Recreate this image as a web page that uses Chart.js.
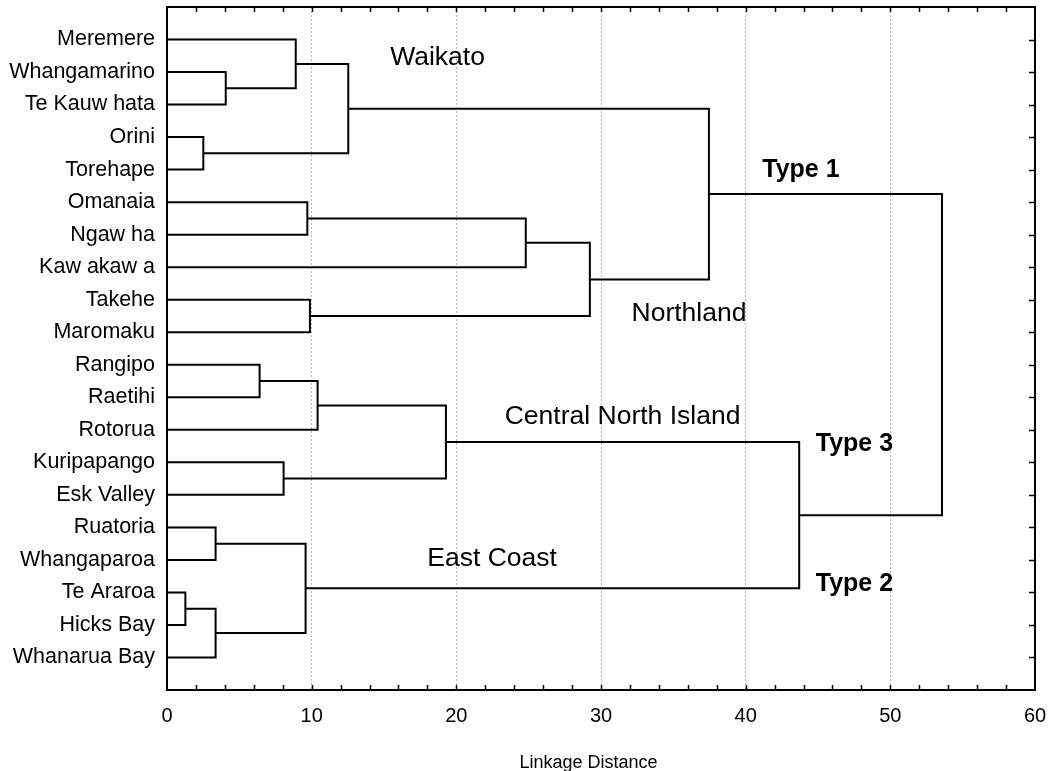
<!DOCTYPE html>
<html>
<head>
<meta charset="utf-8">
<script src="https://cdn.jsdelivr.net/npm/chart.js@4"></script>
<style>
  body { margin: 0; background: #fff; }
  #wrap { width: 1053px; height: 771px; }
</style>
</head>
<body>
<div id="wrap"><canvas id="myChart"></canvas></div>
<script>
// leaves, top to bottom
const leaves = ['Meremere', 'Whangamarino', 'Te Kauw hata', 'Orini', 'Torehape',
    'Omanaia', 'Ngaw ha', 'Kaw akaw a', 'Takehe', 'Maromaku',
    'Rangipo', 'Raetihi', 'Rotorua', 'Kuripapango', 'Esk Valley',
    'Ruatoria', 'Whangaparoa', 'Te Araroa', 'Hicks Bay', 'Whanarua Bay'];

// joins: child a, child b (0-19 = leaf, 20+ = earlier join), linkage distance
const joinA = [17, 3, 15, 20, 1, 10, 13, 0, 22, 5, 8, 25, 27, 31, 29, 34, 32, 33, 36];
const joinB = [18, 4, 16, 19, 2, 11, 14, 24, 23, 6, 9, 12, 21, 26, 7, 30, 35, 28, 37];
const joinDist = [1.27, 2.51, 3.36, 3.36, 4.06, 6.4, 8.06, 8.9, 9.58, 9.7, 9.88,
    10.41, 12.53, 19.28, 24.8, 29.23, 37.46, 43.7, 53.57];

const xTicks = [0, 10, 20, 30, 40, 50, 60];

const notes = [
    { text: 'Waikato', x: 18.7, y: 1.56, bold: false },
    { text: 'Northland', x: 36.08, y: 9.43, bold: false },
    { text: 'Central North Island', x: 31.49, y: 12.6, bold: false },
    { text: 'East Coast', x: 22.47, y: 16.95, bold: false },
    { text: 'Type 1', x: 43.82, y: 5.03, bold: true },
    { text: 'Type 3', x: 47.52, y: 13.43, bold: true },
    { text: 'Type 2', x: 47.52, y: 17.73, bold: true }
];

const FONT = "'Liberation Sans', Arial, sans-serif";

// node positions: leaf at distance 0, join at midpoint of its children
const nodes = leaves.map((_, i) => ({ x: 0, y: i + 1 }));
const datasets = [];
joinDist.forEach((h, k) => {
    const a = nodes[joinA[k]], b = nodes[joinB[k]];
    nodes.push({ x: h, y: (a.y + b.y) / 2 });
    datasets.push({
        data: [{ x: a.x, y: a.y }, { x: h, y: a.y }, { x: h, y: b.y }, { x: b.x, y: b.y }],
        showLine: true,
        borderColor: '#000',
        borderWidth: 2,
        pointRadius: 0,
        fill: false
    });
});

const frame = {
    id: 'frame',
    afterDatasetsDraw(chart) {
        const c = chart.ctx, a = chart.chartArea;
        const xs = chart.scales.x, ys = chart.scales.y;
        c.save();
        c.strokeStyle = '#000';
        c.lineWidth = 2;
        c.strokeRect(a.left, a.top, a.right - a.left, a.bottom - a.top);
        c.lineWidth = 1.5;
        c.beginPath();
        for (let v = 2; v < 60; v += 2) {
            const px = Math.round(xs.getPixelForValue(v)) + 0.5;
            c.moveTo(px, a.bottom); c.lineTo(px, a.bottom - 5);
            c.moveTo(px, a.top); c.lineTo(px, a.top + 5);
        }
        leaves.forEach((_, i) => {
            const py = Math.round(ys.getPixelForValue(i + 1)) + 0.5;
            c.moveTo(a.right, py); c.lineTo(a.right - 6, py);
        });
        c.stroke();

        c.fillStyle = '#000';
        c.textAlign = 'center';
        c.textBaseline = 'middle';
        notes.forEach(n => {
            c.font = (n.bold ? 'bold 25px ' : '26.5px ') + FONT;
            c.fillText(n.text, xs.getPixelForValue(n.x), ys.getPixelForValue(n.y));
        });
        c.restore();
    }
};

new Chart(document.getElementById('myChart'), {
    type: 'scatter',
    data: { datasets: datasets },
    options: {
        responsive: true,
        maintainAspectRatio: false,
        animation: false,
        layout: { padding: { top: 7, right: 18, left: 0, bottom: 0 } },
        plugins: {
            legend: { display: false },
            tooltip: { enabled: false }
        },
        scales: {
            x: {
                type: 'linear',
                min: 0,
                max: 60,
                afterBuildTicks: s => { s.ticks = xTicks.map(v => ({ value: v })); },
                afterFit: s => { s.height = 81; s.paddingLeft = 0; s.paddingRight = 0; },
                border: { display: false, dash: [2, 2] },
                grid: {
                    drawTicks: false,
                    color: c => (c.tick && (c.tick.value === 0 || c.tick.value === 60)) ? 'rgba(0,0,0,0)' : '#b8b8b8',
                    lineWidth: 1
                },
                ticks: {
                    padding: 14,
                    color: '#000',
                    font: { family: FONT, size: 20 }
                },
                title: {
                    display: true,
                    // trailing spaces nudge the centred title a little left, as in the original
                    text: 'Linkage Distance     ',
                    color: '#000',
                    font: { family: FONT, size: 18 },
                    padding: { top: 0, bottom: -3 }
                }
            },
            y: {
                type: 'linear',
                min: 0,
                max: 21,
                reverse: true,
                afterBuildTicks: s => { s.ticks = leaves.map((_, i) => ({ value: i + 1 })); },
                afterFit: s => { s.width = 167; s.paddingTop = 0; s.paddingBottom = 0; },
                border: { display: false },
                grid: { display: false, drawTicks: false },
                ticks: {
                    autoSkip: false,
                    padding: 12,
                    color: '#000',
                    font: { family: FONT, size: 21.5 },
                    callback: v => leaves[v - 1]
                }
            }
        }
    },
    plugins: [frame]
});
</script>
</body>
</html>
